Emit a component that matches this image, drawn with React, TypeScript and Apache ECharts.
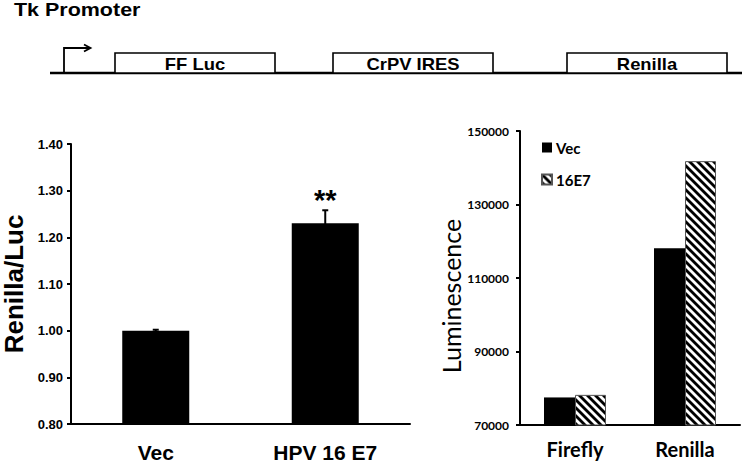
import React, { useEffect, useRef } from "react";
import * as echarts from "echarts";

const diagramLabels = ["FF Luc", "CrPV IRES", "Renilla"];
const promoterTitle = "Tk Promoter";

const ratioCategories = ["Vec", "HPV 16 E7"];
const ratioValues = [1.0, 1.23];
const ratioErrors = [0.002, 0.028];
const ratioSignificance = ["", "**"];

const lumCategories = ["Firefly", "Renilla"];
const lumVec = [77500, 118100];
const lumE7 = [78200, 141800];
const lumSeriesNames = ["Vec", "16E7"];

function makeHatch() {
  const P = 8;
  const c = document.createElement("canvas");
  c.width = P;
  c.height = P;
  const ctx = c.getContext("2d")!;
  ctx.fillStyle = "#fff";
  ctx.fillRect(0, 0, P, P);
  ctx.strokeStyle = "#000";
  ctx.lineWidth = 2.8;
  for (const k of [-1, 0, 1]) {
    ctx.beginPath();
    ctx.moveTo(k * P - 2, -2);
    ctx.lineTo(k * P + P + 2, P + 2);
    ctx.stroke();
  }
  return c;
}

const ARIAL = "Liberation Sans, Arial, sans-serif";
const CAL = "Lato, sans-serif";

export default function App() {
  const ref = useRef<HTMLDivElement>(null);
  useEffect(() => {
    if (!ref.current) return;
    const chart = echarts.init(ref.current, undefined, { renderer: "svg" });
    const hatch = { image: makeHatch(), repeat: "repeat", imageWidth: 8, imageHeight: 8 } as any;

    const boxes = [115, 333, 567];
    const graphic: any[] = [
      {
        type: "text",
        x: 14,
        y: 0,
        scaleX: 1.13,
        style: { text: promoterTitle, font: `bold 19px ${ARIAL}`, fill: "#000" },
      },
      { type: "line", shape: { x1: 50, y1: 73, x2: 742, y2: 73 }, style: { stroke: "#000", lineWidth: 2.5 } },
      {
        type: "polyline",
        shape: { points: [[64, 73], [64, 48], [90, 48]] },
        style: { stroke: "#000", lineWidth: 1.8, fill: null },
      },
      {
        type: "polyline",
        shape: { points: [[84, 44.5], [90.5, 48], [84, 51.5]] },
        style: { stroke: "#000", lineWidth: 1.8, fill: null },
      },
    ];
    diagramLabels.forEach((lab, i) => {
      graphic.push({
        type: "rect",
        shape: { x: boxes[i], y: 53, width: 160, height: 20 },
        style: { stroke: "#000", lineWidth: 1.6, fill: "#fff" },
        z: 5,
      });
      graphic.push({
        type: "text",
        x: boxes[i] + 80,
        y: 64,
        scaleX: 1.15,
        style: {
          text: lab,
          font: `bold 16px ${ARIAL}`,
          fill: "#000",
          align: "center",
          verticalAlign: "middle",
        },
        z: 6,
      });
    });

    const axisLine = { lineStyle: { color: "#000", width: 2 } };
    const axisTick = { length: 5, lineStyle: { color: "#000", width: 2 } };

    chart.setOption({
      animation: false,
      backgroundColor: "#fff",
      graphic,
      legend: {
        data: lumSeriesNames,
        orient: "vertical",
        left: 536,
        top: 135,
        itemWidth: 10,
        itemHeight: 10,
        itemGap: 17,
        icon: "rect",
        textStyle: { fontFamily: CAL, fontWeight: "bold", fontSize: 15, color: "#000", padding: [0, 0, 0, -1] },
      },
      grid: [
        { left: 71, top: 144, width: 339, height: 280, outerBoundsMode: "none" },
        { left: 520, top: 131, width: 220, height: 294, outerBoundsMode: "none" },
      ],
      xAxis: [
        {
          type: "category",
          gridIndex: 0,
          data: ratioCategories,
          axisLine,
          axisTick,
          axisLabel: { color: "#000", fontFamily: ARIAL, fontWeight: "bold", fontSize: 21, margin: 18 },
        },
        {
          type: "category",
          gridIndex: 1,
          data: lumCategories,
          axisLine,
          axisTick,
          axisLabel: { color: "#000", fontFamily: CAL, fontWeight: "bold", fontSize: 20, margin: 14 },
        },
      ],
      yAxis: [
        {
          type: "value",
          gridIndex: 0,
          min: 0.8,
          max: 1.4,
          interval: 0.1,
          axisLine: { show: true, ...axisLine },
          axisTick: { show: true, length: 4, lineStyle: { color: "#000", width: 2 } },
          splitLine: { show: false },
          axisLabel: {
            color: "#000",
            fontFamily: ARIAL,
            fontWeight: "bold",
            fontSize: 13,
            margin: 8,
            formatter: (v: number) => v.toFixed(2),
          },
          name: "Renilla/Luc",
          nameLocation: "middle",
          nameGap: 44,
          nameTextStyle: { color: "#000", fontFamily: ARIAL, fontWeight: "bold", fontSize: 26, lineHeight: 26 },
        },
        {
          type: "value",
          gridIndex: 1,
          min: 70000,
          max: 150000,
          interval: 20000,
          axisLine: { show: true, ...axisLine },
          axisTick: { show: true, length: 4, lineStyle: { color: "#000", width: 2 } },
          splitLine: { show: false },
          axisLabel: {
            color: "#000",
            fontFamily: CAL,
            fontWeight: "bold",
            fontSize: 12,
            margin: 11,
            formatter: (v: number) => String(v),
          },
          name: "Luminescence",
          nameLocation: "middle",
          nameGap: 52,
          nameTextStyle: {
            color: "#000",
            fontFamily: CAL,
            fontWeight: "normal",
            fontSize: 25,
            padding: [0, 36, 0, 0],
          },
        },
      ],
      series: [
        {
          type: "bar",
          xAxisIndex: 0,
          yAxisIndex: 0,
          barWidth: 67,
          data: ratioValues.map((v, i) => ({
            value: v,
            label: {
              show: !!ratioSignificance[i],
              formatter: ratioSignificance[i],
              position: "top",
              distance: 9,
              color: "#000",
              fontFamily: ARIAL,
              fontWeight: "bold",
              fontSize: 29,
            },
          })),
          itemStyle: { color: "#000" },
        },
        {
          type: "custom",
          xAxisIndex: 0,
          yAxisIndex: 0,
          z: 5,
          data: ratioValues.map((v, i) => [i, v, ratioErrors[i]]),
          encode: { x: 0, y: 1 },
          renderItem: (params: any, api: any) => {
            const x = api.value(0);
            const v = api.value(1);
            const e = api.value(2);
            const top = api.coord([x, v + e]);
            const bot = api.coord([x, v - e]);
            const half = 3;
            return {
              type: "group",
              children: [
                {
                  type: "line",
                  shape: { x1: top[0], y1: top[1], x2: bot[0], y2: bot[1] },
                  style: { stroke: "#000", lineWidth: 2 },
                },
                {
                  type: "line",
                  shape: { x1: top[0] - half, y1: top[1], x2: top[0] + half, y2: top[1] },
                  style: { stroke: "#000", lineWidth: 2 },
                },
              ],
            };
          },
        },
        {
          type: "bar",
          name: lumSeriesNames[0],
          xAxisIndex: 1,
          yAxisIndex: 1,
          barWidth: 31,
          barGap: "0%",
          data: lumVec,
          itemStyle: { color: "#000", borderColor: "#000", borderWidth: 0 },
        },
        {
          type: "bar",
          name: lumSeriesNames[1],
          xAxisIndex: 1,
          yAxisIndex: 1,
          barWidth: 31,
          barGap: "0%",
          data: lumE7,
          itemStyle: { color: hatch, borderColor: "#555", borderWidth: 1 },
        },
      ],
    });
    return () => chart.dispose();
  }, []);
  return (
    <div
      ref={ref}
      style={{ position: "fixed", left: 0, top: 0, width: 742, height: 466, background: "#fff" }}
    />
  );
}
